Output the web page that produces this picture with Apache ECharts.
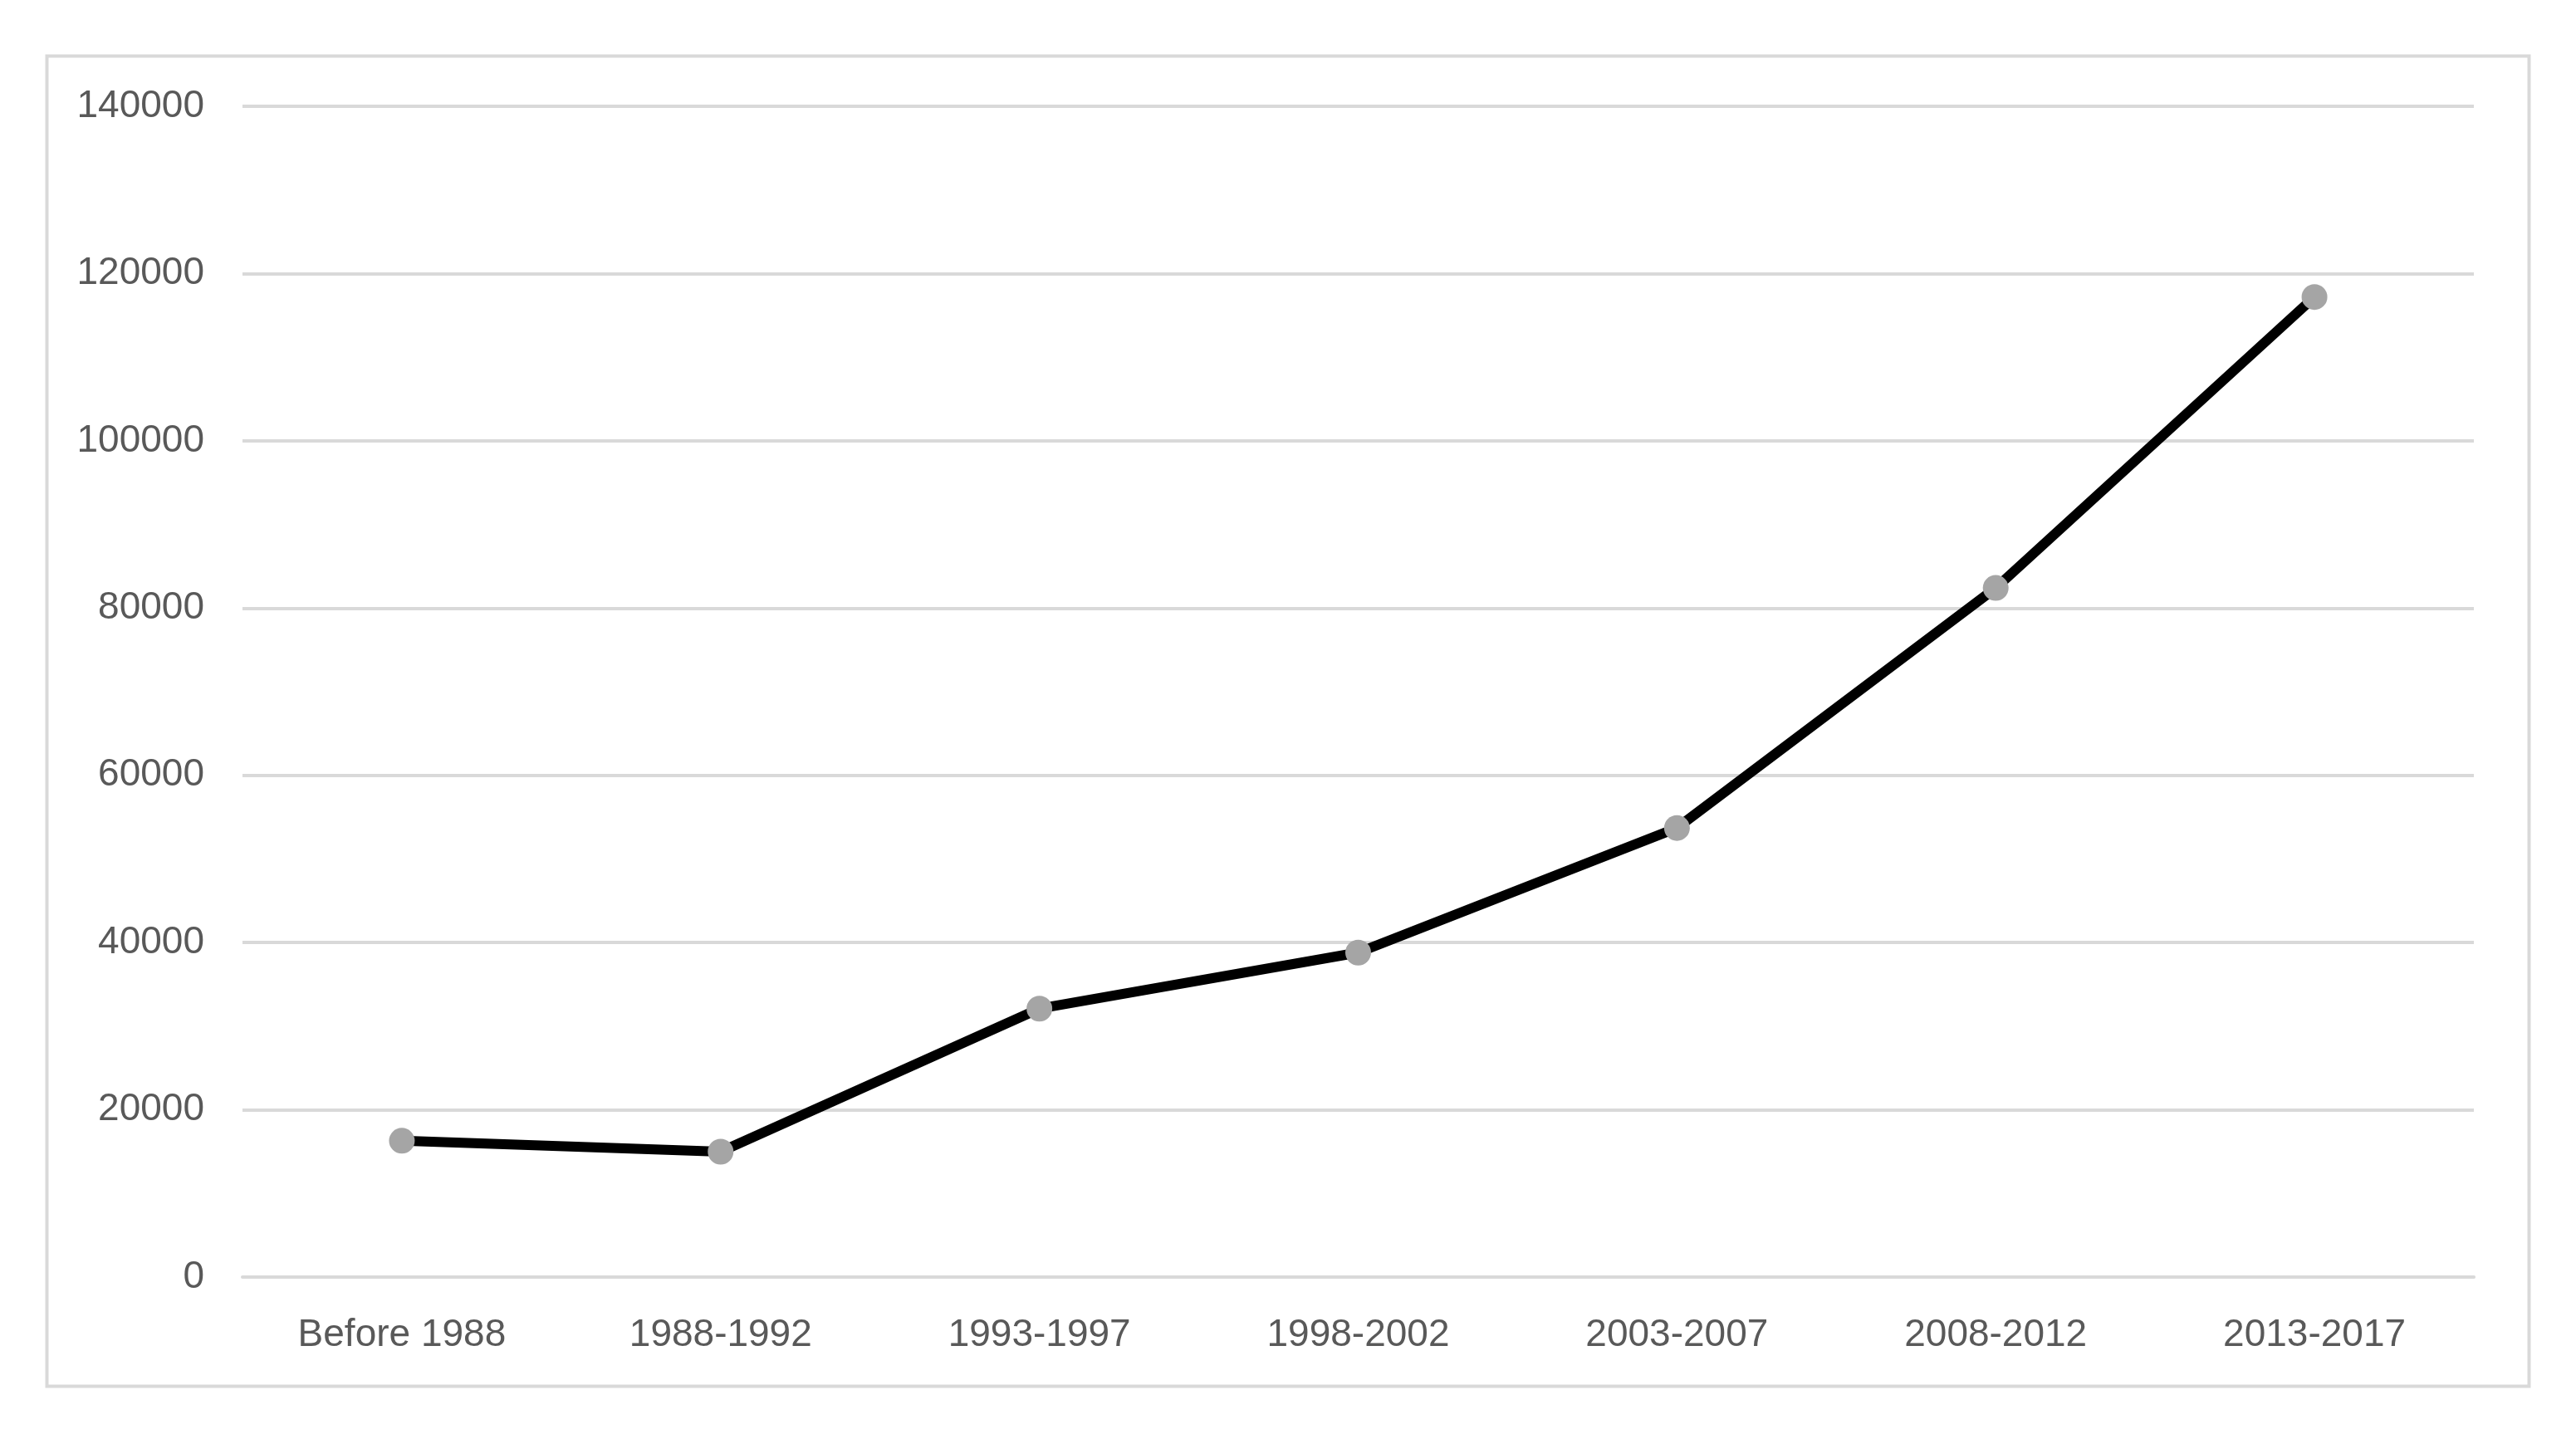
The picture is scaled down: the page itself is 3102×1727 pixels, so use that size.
<!DOCTYPE html>
<html>
<head>
<meta charset="utf-8">
<style>
html,body{margin:0;padding:0;background:#fff;}
#chart{width:3102px;height:1727px;}
</style>
<script src="https://cdn.jsdelivr.net/npm/echarts@6/dist/echarts.min.js"></script>
</head>
<body>
<div id="chart"></div>
<script>
const categories = ['Before 1988', '1988-1992', '1993-1997', '1998-2002', '2003-2007', '2008-2012', '2013-2017'];
const values = [16300, 15000, 32100, 38800, 53700, 82400, 117200];
const yTicks = [0, 20000, 40000, 60000, 80000, 100000, 120000, 140000];

const chart = echarts.init(document.getElementById('chart'));
chart.setOption({
  backgroundColor: '#ffffff',
  animation: false,
  graphic: [{
    type: 'rect',
    left: 54, top: 65,
    shape: { width: 2989, height: 1602 },
    style: { fill: 'none', stroke: '#d9d9d9', lineWidth: 4 },
    silent: true
  }],
  grid: { left: 292, right: 123, top: 128, bottom: 189, containLabel: false },
  xAxis: {
    type: 'category',
    data: categories,
    boundaryGap: true,
    axisLine: { show: true, lineStyle: { color: '#d9d9d9', width: 4 } },
    axisTick: { show: false },
    axisLabel: { color: '#595959', fontSize: 46, fontFamily: 'Liberation Sans', margin: 47 }
  },
  yAxis: {
    type: 'value',
    min: yTicks[0],
    max: yTicks[yTicks.length - 1],
    interval: yTicks[1] - yTicks[0],
    axisLine: { show: false },
    axisTick: { show: false },
    splitLine: { show: true, lineStyle: { color: '#d9d9d9', width: 4 } },
    axisLabel: {
      color: '#595959', fontSize: 46, fontFamily: 'Liberation Sans', margin: 46,
      formatter: function (v) { return String(v); }
    }
  },
  series: [{
    type: 'line',
    data: values,
    symbol: 'circle',
    symbolSize: 31,
    lineStyle: { color: '#000000', width: 12 },
    itemStyle: { color: '#a5a5a5', borderWidth: 0 },
    z: 3
  }]
});
</script>
</body>
</html>
